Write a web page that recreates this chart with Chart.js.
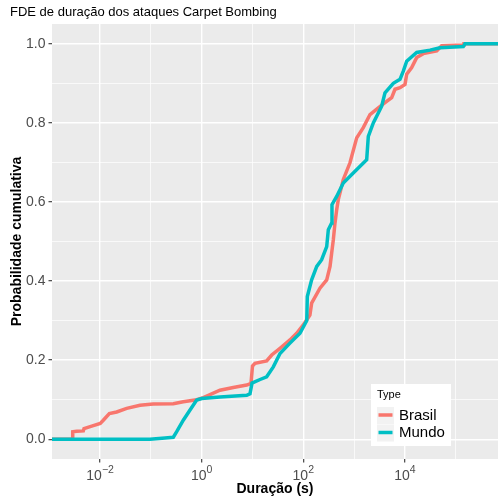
<!DOCTYPE html>
<html>
<head>
<meta charset="utf-8">
<script src="https://cdn.jsdelivr.net/npm/chart.js@4.4.1/dist/chart.umd.min.js"></script>
<style>
  body { margin: 0; background: #fff; }
  #ecdf-chart { display: block; }
</style>
</head>
<body>
<canvas id="ecdf-chart" width="498" height="502"></canvas>
<script>
const series_names = ["Brasil", "Mundo"];
const series_colors = ["#F8766D", "#00BFC4"];

// duração (s) -> probabilidade cumulativa
const brasil_duracao = [0.001, 0.00289, 0.00289, 0.00346, 0.00467, 0.00482, 0.00684, 0.01005, 0.01156, 0.0152,
    0.0212, 0.0334, 0.061, 0.111, 0.276, 0.434, 0.797, 1.075, 2.29, 4.19, 7.69, 9.34, 10.0, 11.2, 19.0,
    23.9, 34.8, 54.7, 74.1, 100, 135, 146, 213, 289, 336, 362, 390, 421, 454, 489, 528, 613, 830, 1125,
    1517, 2056, 2994, 4056, 5496, 6385, 8014, 10050, 10850, 13610, 17070, 23010, 42270, 52970, 141200,
    145600, 1e6];
const brasil_prob = [0, 0, 0.019, 0.02, 0.021, 0.027, 0.033, 0.04, 0.048, 0.065,
    0.069, 0.078, 0.086, 0.089, 0.09, 0.095, 0.1, 0.105, 0.124, 0.131, 0.137, 0.141, 0.185, 0.192, 0.198,
    0.213, 0.23, 0.251, 0.268, 0.289, 0.314, 0.344, 0.382, 0.403, 0.437, 0.471, 0.504, 0.547, 0.58, 0.606, 0.623, 0.657, 0.699, 0.762,
    0.788, 0.821, 0.838, 0.851, 0.864, 0.885, 0.889, 0.897, 0.923, 0.94, 0.965, 0.975, 0.982, 0.995, 0.997,
    1.0, 1.0];

const mundo_duracao = [0.001, 0.096, 0.19, 0.276, 0.322, 0.434, 0.589, 0.797, 1.0, 2.29, 7.69, 8.93, 9.78,
    14.1, 19.0, 25.7, 34.8, 54.7, 86.1, 117, 120, 146, 184, 230, 289, 311, 362, 367, 454, 613, 964,
    1770, 1905, 2390, 3493, 4056, 5912, 8014, 9310, 10850, 17070, 31200, 49100, 141200, 152400, 1e6];
const mundo_prob = [0, 0, 0.003, 0.005, 0.019, 0.048, 0.074, 0.099, 0.103, 0.107, 0.111, 0.115, 0.142,
    0.151, 0.158, 0.183, 0.217, 0.243, 0.268, 0.3, 0.361, 0.403, 0.437, 0.454, 0.487, 0.53, 0.547, 0.593, 0.614, 0.648, 0.673,
    0.707, 0.766, 0.8, 0.842, 0.876, 0.9, 0.91, 0.931, 0.956, 0.978, 0.984, 0.99, 0.993, 1.0, 1.0];

const x_major = [1e-2, 1, 1e2, 1e4];
const x_minor = [1e-1, 1e1, 1e3, 1e5];
const x_exponents = ["−2", "0", "2", "4"];
const y_major = [0, 0.2, 0.4, 0.6, 0.8, 1.0];
const y_minor = [0.1, 0.3, 0.5, 0.7, 0.9];

const FONT = "'Liberation Sans', Arial, sans-serif";
Chart.defaults.font.family = FONT;

function toPoints(xs, ys) {
    return xs.map((x, i) => { return { x: x, y: ys[i] } });
}

function isMajor(list, v) {
    return list.some((m) => Math.abs(m - v) < 1e-9 * Math.max(1, Math.abs(m)));
}

// grey panel behind the grid
const panelBackground = {
    id: "panelBackground",
    beforeDraw(chart) {
        const { ctx, chartArea: a } = chart;
        ctx.save();
        ctx.fillStyle = "#ffffff";
        ctx.fillRect(0, 0, chart.width, chart.height);
        ctx.fillStyle = "#EBEBEB";
        ctx.fillRect(a.left, a.top, a.right - a.left, a.bottom - a.top);
        ctx.restore();
    }
};

// x tick labels as 10 with a raised exponent
const powerLabels = {
    id: "powerLabels",
    afterDraw(chart) {
        const ctx = chart.ctx;
        const xs = chart.scales.x;
        const base_y = xs.top + 21;
        ctx.save();
        ctx.fillStyle = "#4D4D4D";
        ctx.textBaseline = "alphabetic";
        ctx.textAlign = "left";
        x_major.forEach((v, i) => {
            const px = xs.getPixelForValue(v);
            ctx.font = "14px " + FONT;
            const wb = ctx.measureText("10").width;
            ctx.font = "10.5px " + FONT;
            const we = ctx.measureText(x_exponents[i]).width;
            const x0 = px - (wb + we) / 2;
            ctx.font = "14px " + FONT;
            ctx.fillText("10", x0, base_y);
            ctx.font = "10.5px " + FONT;
            ctx.fillText(x_exponents[i], x0 + wb, base_y - 7.5);
        });
        ctx.restore();
    }
};

// legend box inside the panel, bottom right
const typeLegend = {
    id: "typeLegend",
    afterDraw(chart) {
        const ctx = chart.ctx;
        const bx = 371, by = 384, bw = 80, bh = 62;
        ctx.save();
        ctx.fillStyle = "#ffffff";
        ctx.fillRect(bx, by, bw, bh);
        ctx.fillStyle = "#000000";
        ctx.font = "11px " + FONT;
        ctx.textBaseline = "middle";
        ctx.textAlign = "left";
        ctx.fillText("Type", 377, 395);
        chart.data.datasets.forEach((ds, i) => {
            const cy = 415 + i * 17.5;
            ctx.fillStyle = "#F2F2F2";
            ctx.fillRect(377, cy - 8, 17, 17);
            ctx.strokeStyle = ds.borderColor;
            ctx.lineWidth = 3.5;
            ctx.beginPath();
            ctx.moveTo(378.5, cy);
            ctx.lineTo(392.5, cy);
            ctx.stroke();
            ctx.fillStyle = "#000000";
            ctx.font = "15px " + FONT;
            ctx.fillText(ds.label, 399, cy + 0.5);
        });
        ctx.restore();
    }
};

window.addEventListener("load", () => {
    const chart_ctx = document.getElementById("ecdf-chart");

    new Chart(chart_ctx, {
        type: "line",
        data: {
            datasets: [{
                label: series_names[0],
                data: toPoints(brasil_duracao, brasil_prob),
                borderColor: series_colors[0],
                borderWidth: 3.5,
                pointRadius: 0,
                tension: 0,
                order: 1
            }, {
                label: series_names[1],
                data: toPoints(mundo_duracao, mundo_prob),
                borderColor: series_colors[1],
                borderWidth: 3.5,
                pointRadius: 0,
                tension: 0,
                order: 0
            }]
        },
        options: {
            responsive: false,
            animation: false,
            devicePixelRatio: 1,
            layout: { padding: { left: 10, right: 0, top: 0, bottom: 0 } },
            plugins: {
                legend: { display: false },
                tooltip: { enabled: false },
                title: {
                    display: true,
                    text: "FDE de duração dos ataques Carpet Bombing",
                    align: "start",
                    color: "#000000",
                    font: { size: 13, weight: "normal", lineHeight: 1.2 },
                    padding: { top: 4.7, bottom: 3.7 }
                }
            },
            scales: {
                x: {
                    type: "logarithmic",
                    min: Math.pow(10, -2.947),
                    max: Math.pow(10, 5.833),
                    afterBuildTicks: (axis) => {
                        axis.ticks = x_major.concat(x_minor).sort((a, b) => a - b).map((v) => { return { value: v } });
                    },
                    afterFit: (axis) => { axis.height = 43; },
                    border: { display: false },
                    grid: {
                        color: "#ffffff",
                        lineWidth: (c) => isMajor(x_major, c.tick.value) ? 1.4 : 0.7,
                        drawTicks: true,
                        tickLength: 3.5,
                        tickWidth: 1.1,
                        tickColor: (c) => isMajor(x_major, c.tick.value) ? "#333333" : "rgba(0,0,0,0)"
                    },
                    ticks: {
                        autoSkip: false,
                        maxRotation: 0,
                        callback: () => ""
                    },
                    title: {
                        display: true,
                        text: "Duração (s)",
                        color: "#000000",
                        font: { size: 14, weight: "bold", lineHeight: 1.2 },
                        padding: { top: 0, bottom: 4.6 }
                    }
                },
                y: {
                    type: "linear",
                    min: -0.05,
                    max: 1.05,
                    afterBuildTicks: (axis) => {
                        axis.ticks = y_major.concat(y_minor).sort((a, b) => a - b).map((v) => { return { value: v } });
                    },
                    afterFit: (axis) => { axis.width = 42; },
                    border: { display: false },
                    grid: {
                        color: "#ffffff",
                        lineWidth: (c) => isMajor(y_major, c.tick.value) ? 1.4 : 0.7,
                        drawTicks: true,
                        tickLength: 3.5,
                        tickWidth: 1.1,
                        tickColor: (c) => isMajor(y_major, c.tick.value) ? "#333333" : "rgba(0,0,0,0)"
                    },
                    ticks: {
                        autoSkip: false,
                        padding: 3,
                        color: "#4D4D4D",
                        font: { size: 14 },
                        callback: (v) => isMajor(y_major, v) ? v.toFixed(1) : ""
                    },
                    title: {
                        display: true,
                        text: "Probabilidade cumulativa",
                        color: "#000000",
                        font: { size: 14, weight: "bold", lineHeight: 1.0 },
                        padding: { top: 0, bottom: 0 }
                    }
                }
            }
        },
        plugins: [panelBackground, powerLabels, typeLegend]
    });
});
</script>
</body>
</html>
